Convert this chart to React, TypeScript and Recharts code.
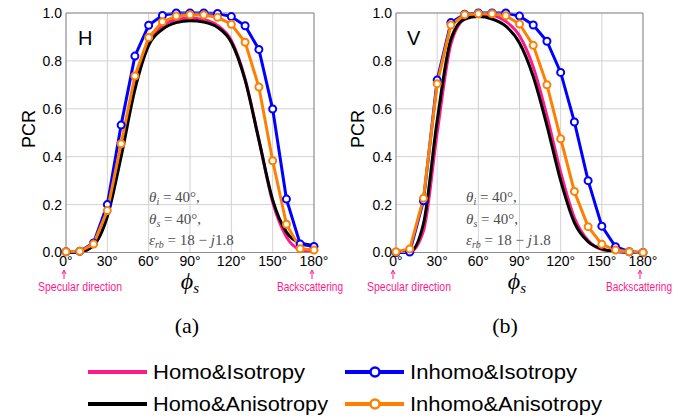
import React from 'react';
import { LineChart, Line, XAxis, YAxis, CartesianGrid } from 'recharts';

const angles = [0, 10, 20, 30, 40, 50, 60, 70, 80, 90, 100, 110, 120, 130, 140, 150, 160, 170, 180];
const xTicks = [0, 30, 60, 90, 120, 150, 180];
const xMinorTicks = [0, 15, 30, 45, 60, 75, 90, 105, 120, 135, 150, 165, 180];
const yTicks = [0, 0.2, 0.4, 0.6, 0.8, 1.0];
const yMinorTicks = [0, 0.1, 0.2, 0.3, 0.4, 0.5, 0.6, 0.7, 0.8, 0.9, 1.0];

// (a) H polarisation
const hHomoIso = [0, 0.002, 0.03, 0.16, 0.42, 0.7, 0.875, 0.945, 0.972, 0.978, 0.972, 0.948, 0.885, 0.725, 0.47, 0.21, 0.065, 0.012, 0.002];
const hHomoAniso = [0, 0.003, 0.03, 0.15, 0.4, 0.68, 0.865, 0.932, 0.96, 0.968, 0.962, 0.94, 0.878, 0.72, 0.47, 0.22, 0.085, 0.04, 0.03];
const hInhomoIso = [0.003, 0.005, 0.04, 0.2, 0.532, 0.82, 0.949, 0.99, 1.0, 1.0, 1.0, 0.998, 0.985, 0.947, 0.848, 0.599, 0.223, 0.035, 0.025];
const hInhomoAniso = [0.003, 0.005, 0.035, 0.175, 0.454, 0.737, 0.898, 0.963, 0.987, 0.993, 0.992, 0.982, 0.953, 0.878, 0.691, 0.383, 0.118, 0.016, 0.01];

// (b) V polarisation
const vHomoIso = [0, 0.002, 0.09, 0.5, 0.87, 0.975, 0.993, 0.99, 0.965, 0.905, 0.775, 0.57, 0.335, 0.145, 0.05, 0.012, 0.003, 0, 0];
const vHomoAniso = [0, 0.003, 0.12, 0.55, 0.89, 0.975, 0.985, 0.975, 0.945, 0.875, 0.735, 0.53, 0.3, 0.125, 0.045, 0.015, 0.005, 0.001, 0];
const vInhomoIso = [0, 0.002, 0.216, 0.72, 0.96, 0.995, 1.0, 1.0, 1.0, 0.987, 0.95, 0.882, 0.752, 0.545, 0.3, 0.11, 0.024, 0.003, 0];
const vInhomoAniso = [0.003, 0.015, 0.226, 0.705, 0.95, 0.993, 0.997, 0.997, 0.989, 0.954, 0.865, 0.7, 0.475, 0.255, 0.108, 0.034, 0.01, 0.003, 0];

const PINK = '#ff1a8c';

const series = [
  { key: 'homoIso', name: 'Homo&Isotropy', color: PINK, marker: false },
  { key: 'homoAniso', name: 'Homo&Anisotropy', color: '#000000', marker: false },
  { key: 'inhomoIso', name: 'Inhomo&Isotropy', color: '#0000ff', marker: true },
  { key: 'inhomoAniso', name: 'Inhomo&Anisotropy', color: '#ff8000', marker: true },
];

const hData = angles.map((angle, i) => ({
  angle,
  homoIso: hHomoIso[i],
  homoAniso: hHomoAniso[i],
  inhomoIso: hInhomoIso[i],
  inhomoAniso: hInhomoAniso[i],
}));

const vData = angles.map((angle, i) => ({
  angle,
  homoIso: vHomoIso[i],
  homoAniso: vHomoAniso[i],
  inhomoIso: vInhomoIso[i],
  inhomoAniso: vInhomoAniso[i],
}));

const SANS = "'Liberation Sans', Arial, sans-serif";
const SERIF = "'Liberation Serif', 'DejaVu Serif', serif";
const FRAME = '#8c8c8c';
const tickStyle = { fontSize: 14, fill: '#000', fontFamily: SANS };

interface PanelProps {
  data: typeof hData;
  left: number;
  margin: { top: number; right: number; bottom: number; left: number };
}

const Panel: React.FC<PanelProps> = ({ data, left, margin }) => (
  <div style={{ position: 'absolute', left, top: 0 }}>
    <LineChart width={347} height={300} data={data} margin={margin}>
      <CartesianGrid stroke="#d2d2d2" strokeWidth={1} />
      <XAxis
        dataKey="angle"
        type="number"
        domain={[0, 180]}
        ticks={xTicks}
        height={30}
        tickLine={false}
        tickSize={0}
        tickMargin={4}
        axisLine={{ stroke: FRAME }}
        tick={tickStyle}
        tickFormatter={(v: number) => `${v}°`}
      />
      <XAxis xAxisId="minorBottom" dataKey="angle" type="number" domain={[0, 180]} ticks={xMinorTicks} orientation="bottom" mirror tick={false} tickSize={4} axisLine={false} tickLine={{ stroke: FRAME }} />
      <XAxis xAxisId="top" dataKey="angle" type="number" domain={[0, 180]} ticks={xMinorTicks} orientation="top" mirror tick={false} tickSize={4} axisLine={{ stroke: FRAME }} tickLine={{ stroke: FRAME }} />
      <YAxis
        type="number"
        domain={[0, 1]}
        ticks={yTicks}
        width={40}
        tickLine={false}
        tickSize={0}
        tickMargin={4}
        axisLine={{ stroke: FRAME }}
        tick={tickStyle}
        tickFormatter={(v: number) => v.toFixed(1)}
      />
      <YAxis yAxisId="minorLeft" type="number" domain={[0, 1]} ticks={yMinorTicks} orientation="left" mirror tick={false} tickSize={4} axisLine={false} tickLine={{ stroke: FRAME }} />
      <YAxis yAxisId="right" type="number" domain={[0, 1]} ticks={yMinorTicks} orientation="right" mirror tick={false} tickSize={4} axisLine={{ stroke: FRAME }} tickLine={{ stroke: FRAME }} />
      {series.map(s => (
        <Line
          key={s.key}
          dataKey={s.key}
          type={s.marker ? 'linear' : 'monotone'}
          stroke={s.color}
          strokeWidth={3}
          dot={s.marker ? { r: 3.5, fill: '#fff', stroke: s.color, strokeWidth: 2 } : false}
          activeDot={false}
          isAnimationActive={false}
        />
      ))}
    </LineChart>
  </div>
);

const Conditions: React.FC<{ x: number }> = ({ x }) => (
  <g fontFamily={SERIF} fontSize={15} fill="#4d4d4d">
    <text x={x} y={202}>
      <tspan fontStyle="italic">θ</tspan>
      <tspan fontStyle="italic" fontSize={10} dy={3}>i</tspan>
      <tspan dy={-3}>{' = 40°,'}</tspan>
    </text>
    <text x={x} y={224}>
      <tspan fontStyle="italic">θ</tspan>
      <tspan fontStyle="italic" fontSize={10} dy={3}>s</tspan>
      <tspan dy={-3}>{' = 40°,'}</tspan>
    </text>
    <text x={x} y={245}>
      <tspan fontStyle="italic">ε</tspan>
      <tspan fontStyle="italic" fontSize={10} dy={3}>rb</tspan>
      <tspan dy={-3}>{' = 18 − '}</tspan>
      <tspan fontStyle="italic">j</tspan>
      <tspan>1.8</tspan>
    </text>
  </g>
);

const Arrow: React.FC<{ x: number }> = ({ x }) => (
  <g stroke={PINK} strokeWidth={1}>
    <line x1={x} y1={279} x2={x} y2={271} />
    <path d={`M${x - 2},${274} L${x},${270} L${x + 2},${274}`} fill="none" />
  </g>
);

interface PanelTextProps {
  tag: string;
  tagX: number;
  condX: number;
  pcrX: number;
  phiX: number;
  arrows: [number, number];
  specX: number;
  backX: number;
  caption: string;
  captionX: number;
}

const PanelText: React.FC<PanelTextProps> = p => (
  <g>
    <text x={p.tagX} y={45} fontFamily={SANS} fontSize={20}>{p.tag}</text>
    <Conditions x={p.condX} />
    <text transform={`translate(${p.pcrX},129) rotate(-90)`} textAnchor="middle" fontFamily={SANS} fontSize={18}>PCR</text>
    <text x={p.phiX} y={289} textAnchor="middle" fontFamily={SERIF} fontSize={24} fontStyle="italic">
      ϕ<tspan fontSize={15} dy={4}>s</tspan>
    </text>
    <Arrow x={p.arrows[0]} />
    <Arrow x={p.arrows[1]} />
    <text x={p.specX} y={291} textAnchor="middle" fontFamily={SANS} fontSize={12} fill={PINK} textLength={84} lengthAdjust="spacingAndGlyphs">Specular direction</text>
    <text x={p.backX} y={291} textAnchor="middle" fontFamily={SANS} fontSize={12} fill={PINK} textLength={66} lengthAdjust="spacingAndGlyphs">Backscattering</text>
    <text x={p.captionX} y={333} textAnchor="middle" fontFamily={SERIF} fontSize={22}>{p.caption}</text>
  </g>
);

const legendWidths = [152, 175, 167, 192];

const Legend: React.FC = () => (
  <g>
    {series.map((s, i) => {
      const x0 = i < 2 ? 88 : 345;
      const y = i % 2 === 0 ? 372 : 404;
      return (
        <g key={s.key}>
          <line x1={x0} y1={y} x2={x0 + 59} y2={y} stroke={s.color} strokeWidth={4} />
          {s.marker && <circle cx={x0 + 30} cy={y} r={4.5} fill="#fff" stroke={s.color} strokeWidth={2.5} />}
          <text x={x0 + 65} y={y + 7} fontFamily={SANS} fontSize={20} textLength={legendWidths[i]} lengthAdjust="spacingAndGlyphs">
            {s.name}
          </text>
        </g>
      );
    })}
  </g>
);

export default function App() {
  return (
    <div style={{ position: 'absolute', left: 0, top: 0, width: 694, height: 419, background: '#fff' }}>
      <Panel data={hData} left={0} margin={{ top: 13, right: 33, bottom: 17.5, left: 26 }} />
      <Panel data={vData} left={347} margin={{ top: 13, right: 51, bottom: 17.5, left: 9 }} />
      <svg width={694} height={419} style={{ position: 'absolute', left: 0, top: 0, pointerEvents: 'none' }}>
        <PanelText tag="H" tagX={78} condX={149} pcrX={35} phiX={190} arrows={[64, 312]} specX={80} backX={310} caption="(a)" captionX={187} />
        <PanelText tag="V" tagX={407} condX={466} pcrX={364} phiX={517} arrows={[393, 640]} specX={409} backX={639} caption="(b)" captionX={505} />
        <Legend />
      </svg>
    </div>
  );
}
